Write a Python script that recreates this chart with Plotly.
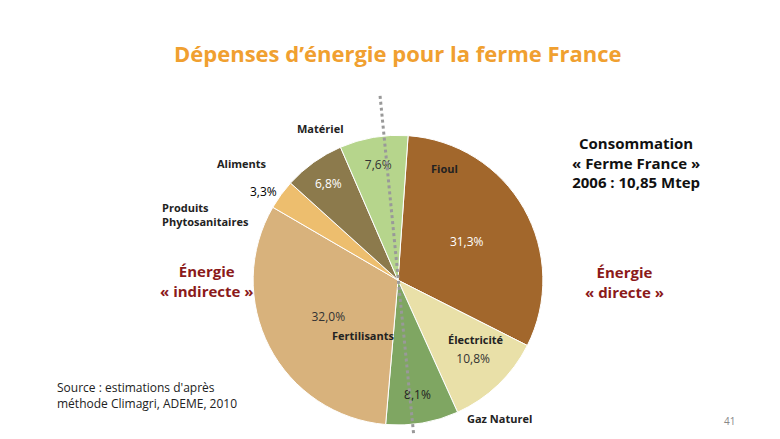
import plotly.graph_objects as go

labels = ["Fioul", "Électricité", "Gaz Naturel", "Fertilisants", "Produits Phytosanitaires", "Aliments", "Matériel"]
values = [31.3, 10.8, 8.1, 32.0, 3.3, 6.8, 7.6]
pct_text = ["31,3%", "10,8%", "8,1%", "32,0%", "3,3%", "6,8%", "7,6%"]
colors = ["#A2672C", "#E9E0A8", "#7FA662", "#D8B27C", "#EDBE6E", "#8C7A4C", "#B6D58C"]

fig = go.Figure(go.Pie(
    labels=labels, values=values, text=pct_text, textinfo="text",
    sort=False, direction="clockwise", rotation=4,
    marker=dict(colors=colors, line=dict(color="white", width=1)),
    textfont=dict(family="Open Sans", size=12, color=["white", "#333", "#222", "#333", "#333", "white", "#333"]),
    insidetextorientation="horizontal", showlegend=False,
    domain=dict(x=[0.31, 0.69], y=[0.05, 0.71]),
))

fig.add_shape(type="line", xref="paper", yref="paper", x0=0.477, x1=0.52, y0=0.80, y1=0.03,
              line=dict(color="#999", width=3, dash="dot"))

def ann(x, y, t, size=11, color="#222", bold=True, align="center", xanchor="center"):
    fig.add_annotation(x=x, y=y, xref="paper", yref="paper", showarrow=False, yanchor="middle",
                       text=f"<b>{t}</b>" if bold else t, align=align, xanchor=xanchor,
                       font=dict(family="Open Sans", size=size, color=color))

ann(0.5, 0.897, "Dépenses d’énergie pour la ferme France", 22, "#F0A030")
ann(0.805, 0.647, "Consommation<br>« Ferme France »<br>2006 : 10,85 Mtep", 15, "#111")
ann(0.255, 0.378, "Énergie<br>« indirecte »", 15, "#8B1A1A")
ann(0.79, 0.375, "Énergie<br>« directe »", 15, "#8B1A1A")
ann(0.40, 0.725, "Matériel", 11)
ann(0.30, 0.645, "Aliments", 11)
ann(0.195, 0.53, "Produits<br>Phytosanitaires", 11, align="left", xanchor="left")
ann(0.56, 0.635, "Fioul", 11)
ann(0.60, 0.245, "Électricité", 11)
ann(0.455, 0.255, "Fertilisants", 11)
ann(0.63, 0.066, "Gaz Naturel", 11)
ann(0.06, 0.118, "Source : estimations d'après<br>méthode Climagri, ADEME, 2010", 12, "#222", bold=False, align="left", xanchor="left")
ann(0.925, 0.06, "41", 10, "#888", bold=False)

fig.update_layout(width=780, height=439, margin=dict(l=0, r=0, t=0, b=0),
                  paper_bgcolor="white", plot_bgcolor="white")
fig.write_html("out.html")
